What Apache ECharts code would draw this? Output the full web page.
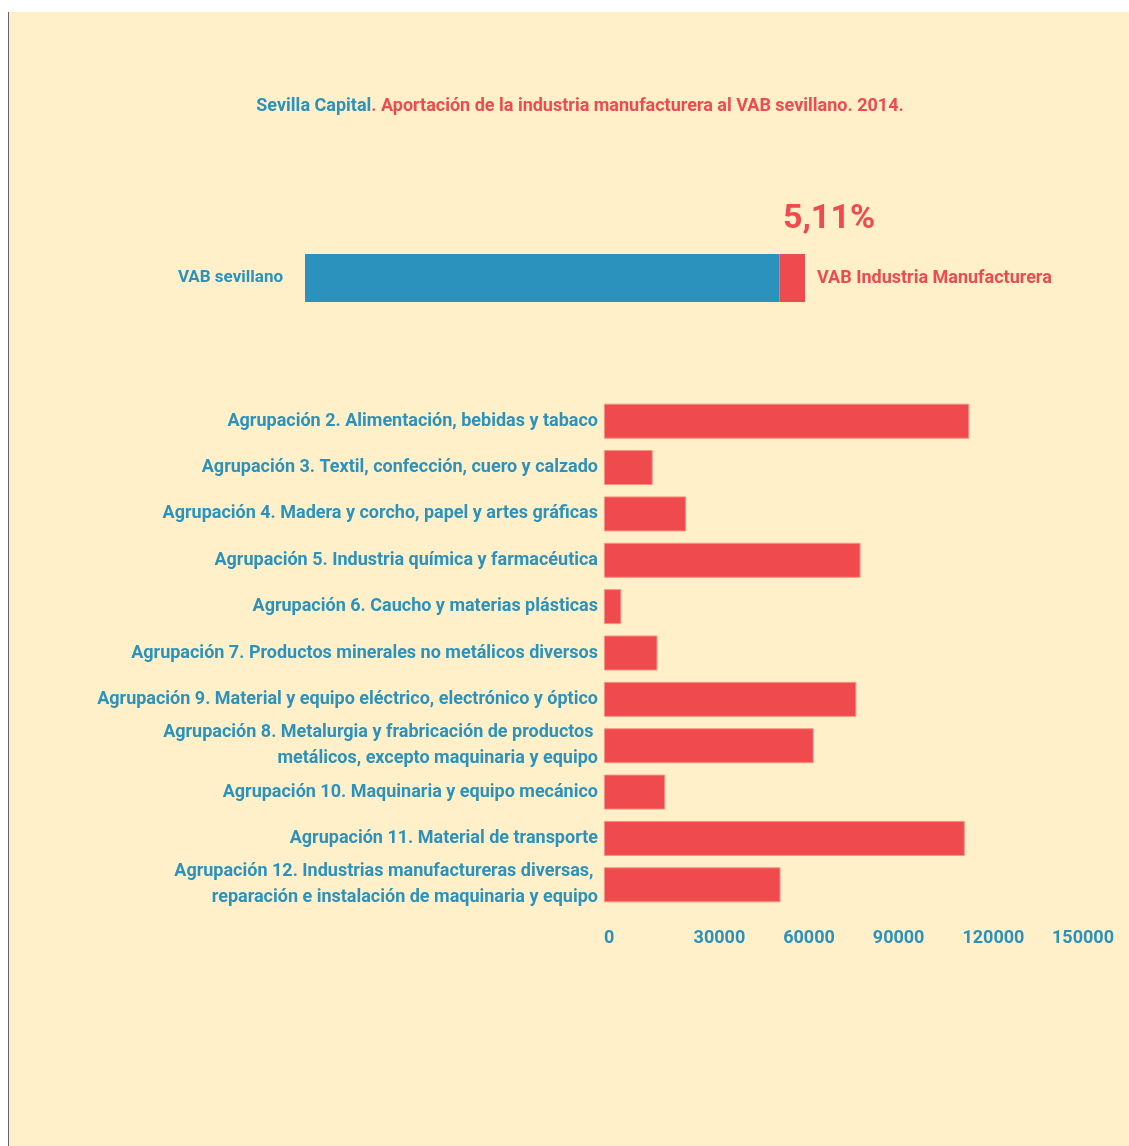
<!DOCTYPE html>
<html>
<head>
<meta charset="utf-8">
<script src="https://cdn.jsdelivr.net/npm/echarts@6/dist/echarts.min.js"></script>
<style>
  html, body { margin: 0; padding: 0; background: #ffffff; }
  #chart {
    position: absolute;
    left: 8px;
    top: 12px;
    width: 1120px;
    height: 1134px;
    background: #fff0c9;
    border-left: 1px solid #666666;
  }
</style>
</head>
<body>
<div id="chart"></div>
<script>
// datos
const sectores = [
  "Agrupación 2. Alimentación, bebidas y tabaco",
  "Agrupación 3. Textil, confección, cuero y calzado",
  "Agrupación 4. Madera y corcho, papel y artes gráficas",
  "Agrupación 5. Industria química y farmacéutica",
  "Agrupación 6. Caucho y materias plásticas",
  "Agrupación 7. Productos minerales no metálicos diversos",
  "Agrupación 9. Material y equipo eléctrico, electrónico y óptico",
  "Agrupación 8. Metalurgia y frabricación de productos \nmetálicos, excepto maquinaria y equipo",
  "Agrupación 10. Maquinaria y equipo mecánico",
  "Agrupación 11. Material de transporte",
  "Agrupación 12. Industrias manufactureras diversas, \nreparación e instalación de maquinaria y equipo",
];
const vabSector = [122300, 16300, 27500, 85900, 5800, 17900, 84500, 70200, 20500, 120800, 59100];
const ejeTicks = ["0", "30000", "60000", "90000", "120000", "150000"];

const totalLabel = ["VAB sevillano"];
const restoPct = [94.89];
const industriaPct = [5.11];

const AZUL = "#2b92bd";
const ROJO = "#ef4b4e";
const FUENTE = "Roboto, sans-serif";

const chart = echarts.init(document.getElementById("chart"));

const option = {
  animation: false,
  textStyle: { fontFamily: FUENTE, fontWeight: "bold" },
  title: {
    text: "{a|Sevilla Capital}{b|. Aportación de la industria manufacturera al VAB sevillano. 2014.}",
    left: 566,
    textAlign: "center",
    top: 80,
    textStyle: {
      rich: {
        a: { color: AZUL, fontSize: 18, fontFamily: FUENTE, fontWeight: "bold" },
        b: { color: ROJO, fontSize: 18, fontFamily: FUENTE, fontWeight: "bold" },
      },
    },
  },
  grid: [
    // barras por agrupación
    { left: 595, top: 386, width: 448, height: 510, outerBoundsMode: "none" },
    // barra VAB total
    { left: 296, top: 242, width: 500, height: 48, outerBoundsMode: "none" },
  ],
  xAxis: [
    {
      gridIndex: 0,
      type: "value",
      min: 0,
      max: 150000,
      interval: 30000,
      axisLine: { show: false },
      axisTick: { show: false },
      splitLine: { show: false },
      axisLabel: {
        color: AZUL,
        fontSize: 18,
        fontFamily: FUENTE,
        fontWeight: "bold",
        align: "left",
        margin: 21,
        formatter: (v) => ejeTicks[Math.round(v / 30000)],
      },
    },
    {
      gridIndex: 1,
      type: "value",
      min: 0,
      max: 100,
      show: false,
    },
  ],
  yAxis: [
    {
      gridIndex: 0,
      type: "category",
      inverse: true,
      data: sectores,
      axisLine: { show: false },
      axisTick: { show: false },
      axisLabel: {
        color: AZUL,
        fontSize: 18,
        lineHeight: 26,
        fontFamily: FUENTE,
        fontWeight: "bold",
        margin: 6,
        align: "right",
      },
    },
    {
      gridIndex: 1,
      type: "category",
      data: totalLabel,
      axisLine: { show: false },
      axisTick: { show: false },
      axisLabel: {
        color: AZUL,
        fontSize: 17,
        fontFamily: FUENTE,
        fontWeight: "bold",
        margin: 22,
        padding: [0, 0, 16, 0],
      },
    },
  ],
  series: [
    {
      name: "VAB agrupación",
      type: "bar",
      xAxisIndex: 0,
      yAxisIndex: 0,
      data: vabSector,
      barWidth: 35,
      itemStyle: { color: ROJO, borderColor: "#f7917f", borderWidth: 1 },
    },
    {
      name: "VAB resto",
      type: "bar",
      xAxisIndex: 1,
      yAxisIndex: 1,
      stack: "vab",
      data: restoPct,
      barWidth: 48,
      itemStyle: { color: AZUL },
    },
    {
      name: "VAB Industria Manufacturera",
      type: "bar",
      xAxisIndex: 1,
      yAxisIndex: 1,
      stack: "vab",
      data: industriaPct,
      barWidth: 48,
      itemStyle: { color: ROJO },
      label: {
        show: true,
        position: "right",
        distance: 12,
        color: ROJO,
        fontSize: 18,
        fontFamily: FUENTE,
        fontWeight: "bold",
        formatter: "VAB Industria Manufacturera",
      },
      markPoint: {
        symbol: "circle",
        symbolSize: 0,
        data: [{ coord: [100, 0] }],
        label: {
          show: true,
          position: [-22, -59],
          color: ROJO,
          fontSize: 34,
          fontFamily: FUENTE,
          fontWeight: "bold",
          align: "left",
          verticalAlign: "middle",
          formatter: () => industriaPct[0].toFixed(2).replace(".", ",") + "%",
        },
      },
    },
  ],
};

chart.setOption(option);
</script>
</body>
</html>
